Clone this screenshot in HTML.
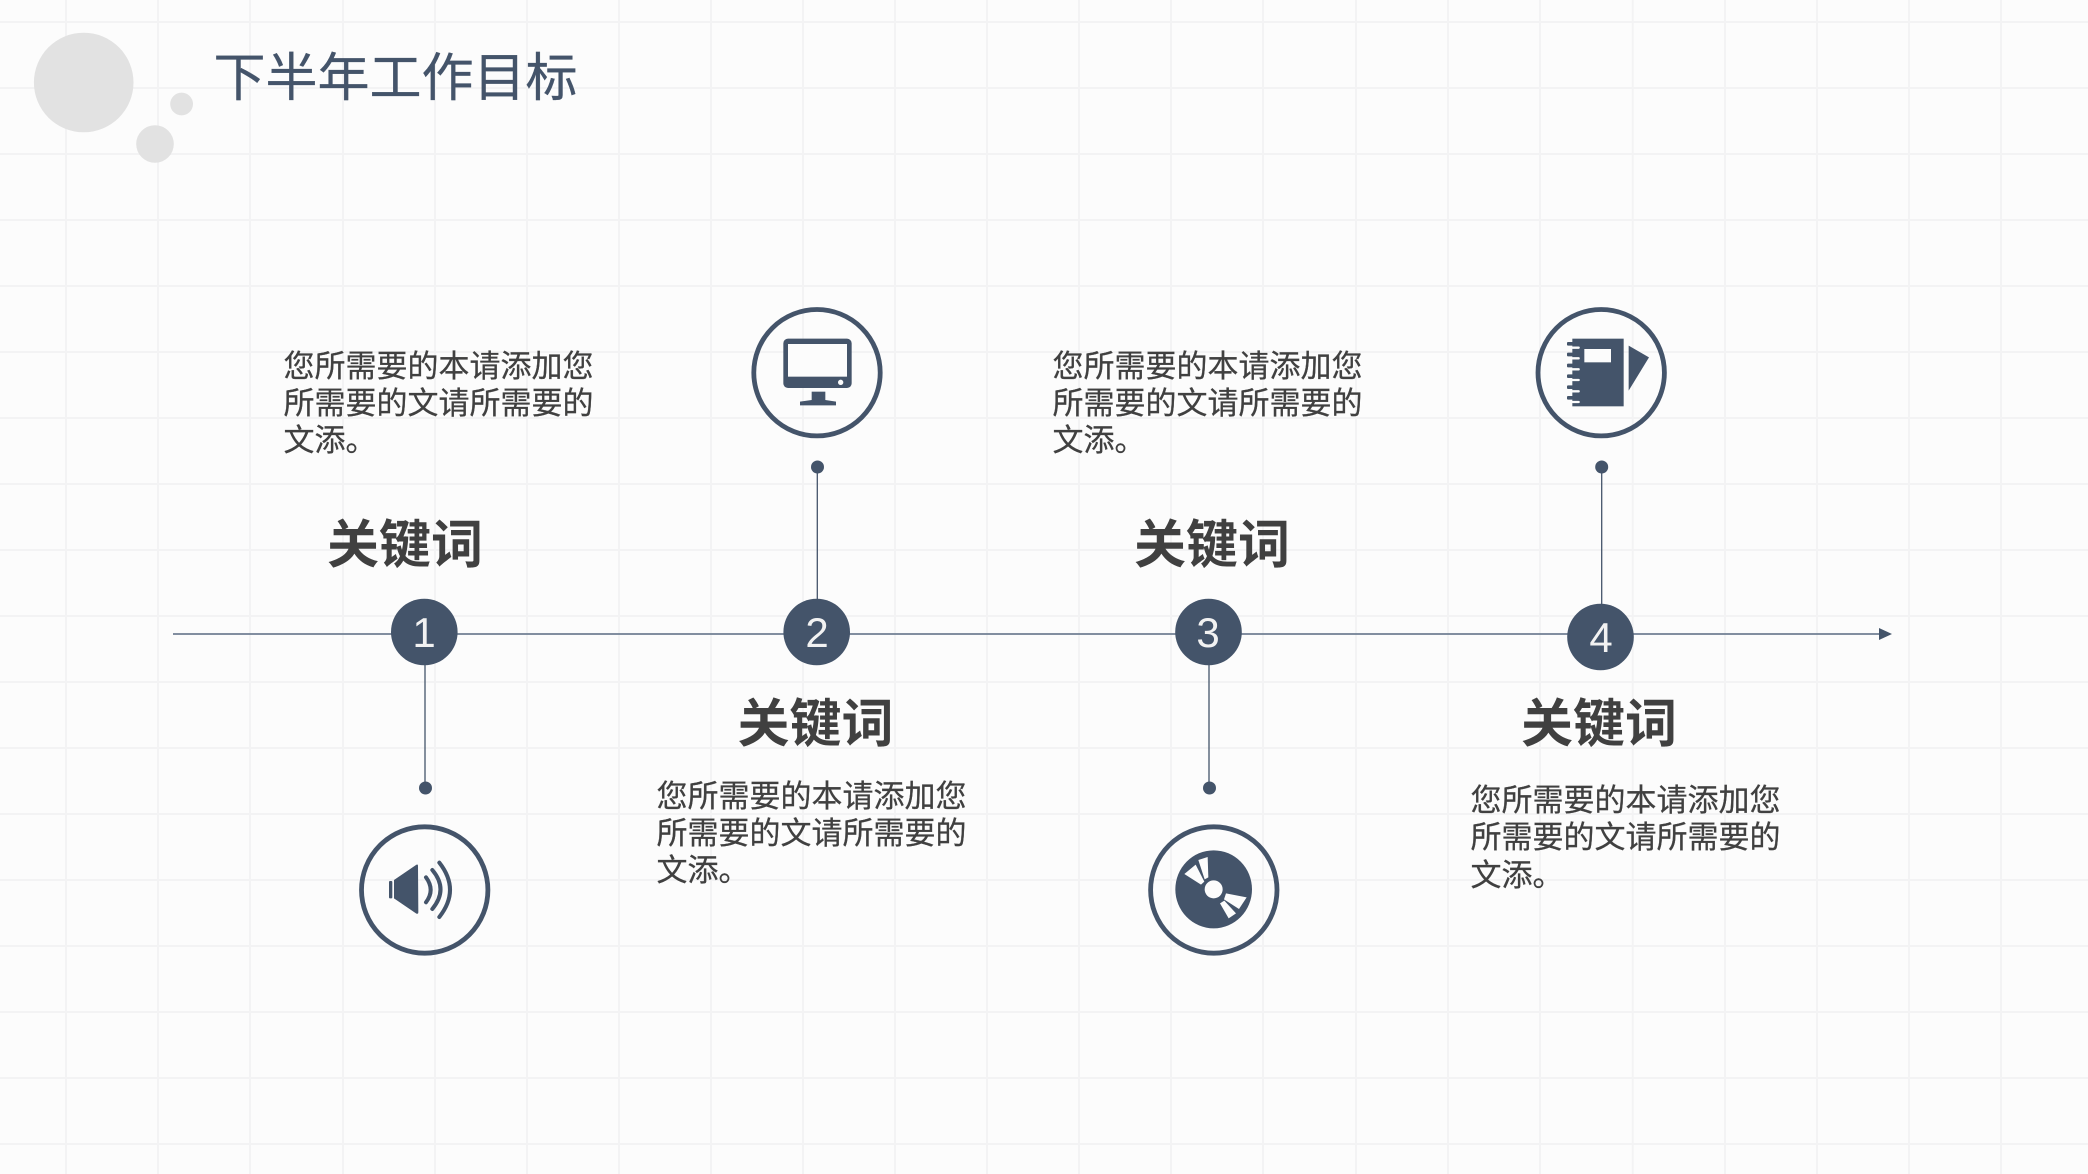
<!DOCTYPE html>
<html lang="zh">
<head>
<meta charset="utf-8">
<title>下半年工作目标</title>
<style>
html,body{margin:0;padding:0;background:#fcfcfc}
#p{position:relative;width:2088px;height:1174px;overflow:hidden;background:#fcfcfc;font-family:"Liberation Sans","Noto Sans CJK SC",sans-serif}
svg{position:absolute;left:0;top:0}
.t{position:absolute;white-space:nowrap;font-family:"Liberation Sans","Noto Sans CJK SC",sans-serif}
.title{left:213.500px;top:41px;font-size:52px;line-height:76px;color:#44546a;-webkit-text-stroke:.3px #44546a}
.kw{font-size:52px;line-height:60px;font-weight:700;color:#404040}
.b{font-size:31px;line-height:37.500px;color:#404040;-webkit-text-stroke:.25px #404040}
.n{font-family:"Liberation Sans",sans-serif;font-size:42px;line-height:50px;color:#f2f2f2;text-align:center;width:66px}
</style>
</head>
<body>
<div id="p">
<svg width="2088" height="1174" viewBox="0 0 2088 1174">
  <g stroke="#f3f3f4" stroke-width="2" fill="none">
    <path d="M66 0V1174M158 0V1174M250 0V1174M343 0V1174M435 0V1174M527 0V1174M619 0V1174M711 0V1174M803 0V1174M895 0V1174M987 0V1174M1079 0V1174M1171 0V1174M1263 0V1174M1356 0V1174M1448 0V1174M1540 0V1174M1632.700 0V1174M1725 0V1174M1817 0V1174M1909 0V1174M2001 0V1174"/>
    <path d="M0 22H2088M0 88H2088M0 154H2088M0 220H2088M0 286H2088M0 352H2088M0 418H2088M0 484H2088M0 550H2088M0 616H2088M0 682H2088M0 748H2088M0 814H2088M0 880H2088M0 946H2088M0 1012H2088M0 1078H2088M0 1144H2088"/>
  </g>
  <circle cx="83.700" cy="82.500" r="49.800" fill="#e2e2e2"/>
  <circle cx="155" cy="144" r="18.800" fill="#e2e2e2"/>
  <circle cx="181.600" cy="104" r="11.400" fill="#e2e2e2"/>

  <line x1="173" y1="634" x2="1882" y2="634" stroke="#707f93" stroke-width="1.800"/>
  <polygon points="1879,628 1892,634 1879,640" fill="#44546a"/>

  <g stroke="#44546a" stroke-width="1.300">
    <line x1="425" y1="660" x2="425" y2="788"/>
    <line x1="817.300" y1="467" x2="817.300" y2="610"/>
    <line x1="1209" y1="660" x2="1209" y2="788"/>
    <line x1="1601.700" y1="467" x2="1601.700" y2="610"/>
  </g>
  <g fill="#44546a">
    <circle cx="425.500" cy="788" r="6.500"/>
    <circle cx="817.500" cy="467" r="6.500"/>
    <circle cx="1209.500" cy="788" r="6.500"/>
    <circle cx="1601.700" cy="467" r="6.500"/>
    <circle cx="424.300" cy="632" r="33.300"/>
    <circle cx="816.700" cy="632" r="33.300"/>
    <circle cx="1208.500" cy="632" r="33.300"/>
    <circle cx="1600.500" cy="637" r="33.300"/>
  </g>
  <g fill="none" stroke="#44546a" stroke-width="4.800">
    <circle cx="424.700" cy="890" r="63.200"/>
    <circle cx="817.000" cy="372.700" r="63.200"/>
    <circle cx="1213.800" cy="890" r="63.200"/>
    <circle cx="1601.200" cy="372.700" r="63.200"/>
  </g>

  <!-- monitor -->
  <g transform="translate(700 280) scale(.33333)" fill="#44546a">
    <rect x="250" y="176" width="205" height="148" rx="14"/>
    <rect x="264" y="192" width="177" height="98" fill="#fcfcfc"/>
    <circle cx="422" cy="307" r="8" fill="#fcfcfc"/>
    <rect x="335" y="335" width="41" height="28"/>
    <path d="M300 376V365L335 360H376L408 365V376Z"/>
  </g>

  <!-- notebook -->
  <g transform="translate(1500 280) scale(.33333)" fill="#44546a">
    <rect x="217" y="176" width="154" height="203"/>
    <rect x="253" y="207" width="80" height="40" fill="#fcfcfc"/>
    <polygon points="386,197 447,232 386,332"/>
    <g stroke="#fcfcfc" stroke-width="7" fill="none" stroke-linecap="round">
      <path d="M217 203H236M217 235H236M217 268H236M217 300H236M217 334H236M217 366H236"/>
    </g>
    <rect x="201" y="186" width="30" height="11" rx="3"/>
    <rect x="201" y="218" width="30" height="11" rx="3"/>
    <rect x="201" y="251" width="30" height="11" rx="3"/>
    <rect x="201" y="283" width="30" height="11" rx="3"/>
    <rect x="201" y="316" width="30" height="11" rx="3"/>
    <rect x="201" y="348" width="30" height="11" rx="3"/>
  </g>

  <!-- speaker -->
  <g transform="translate(330 800) scale(.33333)" fill="#44546a">
    <rect x="177" y="243" width="10" height="52" rx="3"/>
    <path d="M192 240L258 195Q264 191 264 198L265 336Q265 344 258 340L192 295Z"/>
    <g fill="none" stroke="#44546a" stroke-width="12" stroke-linecap="round">
      <path d="M288 232Q316 270 288 307"/>
      <path d="M307 210Q356 268 307 327"/>
      <path d="M328 188Q392 270 328 351"/>
    </g>
  </g>

  <!-- disc -->
  <g transform="translate(1120 800) scale(.33333)" fill="#44546a">
    <ellipse cx="281" cy="268" rx="115" ry="117"/>
    <g fill="#fcfcfc">
      <circle cx="281" cy="268" r="27"/>
      <polygon points="193,222 227,194 253,245 243,254"/>
      <polygon points="235,180 263,171 265,232 254,238"/>
      <polygon points="318,280 380,292 357,327 312,298"/>
      <polygon points="300,310 313,302 348,340 326,355"/>
    </g>
  </g>
</svg>

<div class="t title">下半年工作目标</div>

<div class="t b" style="left:283.500px;top:348px">您所需要的本请添加您</div>
<div class="t b" style="left:283.500px;top:385px">所需要的文请所需要的</div>
<div class="t b" style="left:283.500px;top:422px">文添。</div>

<div class="t b" style="left:656.500px;top:778px">您所需要的本请添加您</div>
<div class="t b" style="left:656.500px;top:815px">所需要的文请所需要的</div>
<div class="t b" style="left:656.500px;top:852px">文添。</div>

<div class="t b" style="left:1052.500px;top:348px">您所需要的本请添加您</div>
<div class="t b" style="left:1052.500px;top:385px">所需要的文请所需要的</div>
<div class="t b" style="left:1052.500px;top:422px">文添。</div>

<div class="t b" style="left:1470.500px;top:782px">您所需要的本请添加您</div>
<div class="t b" style="left:1470.500px;top:819px">所需要的文请所需要的</div>
<div class="t b" style="left:1470.500px;top:857px">文添。</div>

<div class="t kw" style="left:327px;top:515.500px">关键词</div>
<div class="t kw" style="left:737.500px;top:694.500px">关键词</div>
<div class="t kw" style="left:1134px;top:515.500px">关键词</div>
<div class="t kw" style="left:1521px;top:694.500px">关键词</div>

<div class="t n" style="left:391px;top:608px">1</div>
<div class="t n" style="left:784px;top:608px">2</div>
<div class="t n" style="left:1175px;top:608px">3</div>
<div class="t n" style="left:1568px;top:613px">4</div>
</div>
</body>
</html>
